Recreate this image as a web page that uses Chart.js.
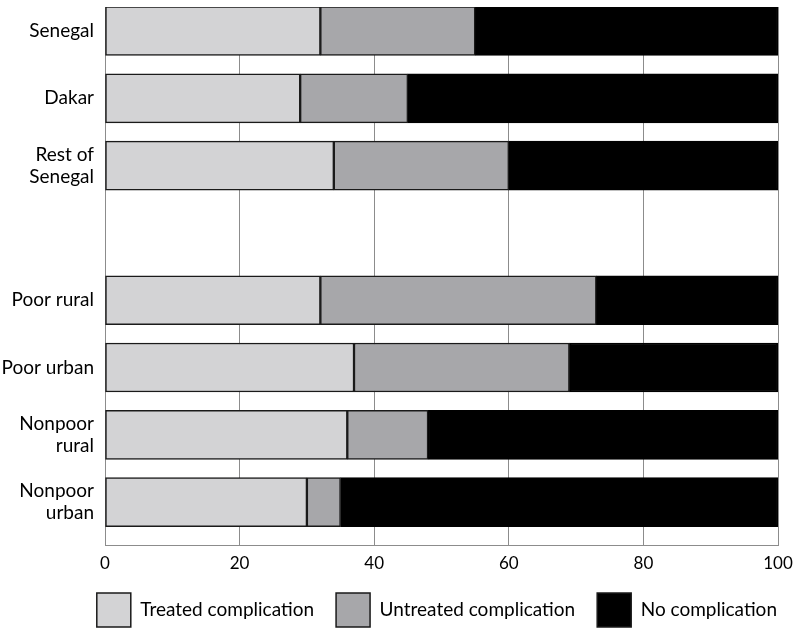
<!DOCTYPE html>
<html>
<head>
<meta charset="utf-8">
<script src="https://cdn.jsdelivr.net/npm/chart.js@4.4.1/dist/chart.umd.min.js"></script>
<style>
html,body{margin:0;padding:0;background:#fff;}
#wrap{width:800px;height:633px;position:relative;}
</style>
</head>
<body>
<div id="wrap"><canvas id="c" width="800" height="633"></canvas></div>
<script>
const categories = ['Senegal', 'Dakar', ['Rest of', 'Senegal'], '', 'Poor rural', 'Poor urban', ['Nonpoor', 'rural'], ['Nonpoor', 'urban']];
const treated   = [32, 29, 34, null, 32, 37, 36, 30];
const untreated = [23, 16, 26, null, 41, 32, 12, 5];
const noComp    = [45, 55, 40, null, 27, 31, 52, 65];
const xTicks = [0, 20, 40, 60, 80, 100];
const seriesNames = ['Treated complication', 'Untreated complication', 'No complication'];

function pts(arr) {
  return arr.map((v, i) => (v === null ? null : { x: v, y: i })).filter(p => p !== null);
}

const FONT = 'Lato, "Open Sans", sans-serif';

const legendShift = {
  id: 'legendShift',
  afterLayout(chart) {
    const lg = chart.legend;
    if (lg) { lg.top -= 3; lg.bottom -= 3; }
  }
};

new Chart(document.getElementById('c'), {
  type: 'bar',
  data: {
    datasets: [
      { label: seriesNames[0], data: pts(treated), backgroundColor: '#d3d3d5', borderColor: '#1a1a1a', borderWidth: 1.5, borderSkipped: false },
      { label: seriesNames[1], data: pts(untreated), backgroundColor: '#a7a7aa', borderColor: '#1a1a1a', borderWidth: 1.5, borderSkipped: false },
      { label: seriesNames[2], data: pts(noComp), backgroundColor: '#000000', borderColor: '#000000', borderWidth: 1.5, borderSkipped: false }
    ]
  },
  plugins: [legendShift],
  options: {
    indexAxis: 'y',
    responsive: false,
    animation: false,
    barThickness: 49,
    layout: { padding: { top: 7, right: 1, left: 0, bottom: -7 } },
    scales: {
      x: {
        type: 'linear',
        stacked: true,
        min: 0,
        max: 100,
        afterBuildTicks: s => { s.ticks = xTicks.map(v => ({ value: v })); },
        afterFit: s => { s.height = 29; s.paddingRight = 22; s.paddingLeft = 0; },
        grid: { display: true, color: '#8c8c8c', lineWidth: 1, drawTicks: false },
        border: { display: true, color: '#8c8c8c', width: 1 },
        ticks: { color: '#000', font: { family: FONT, size: 17 }, padding: 8 }
      },
      y: {
        type: 'linear',
        stacked: true,
        reverse: true,
        offset: false,
        min: -0.357,
        max: 7.637,
        afterBuildTicks: s => { s.ticks = categories.map((c, i) => ({ value: i })).filter(t => categories[t.value] !== ''); },
        afterFit: s => { s.width = 105; s.paddingTop = 0; s.paddingBottom = 0; },
        grid: { display: false, drawTicks: false },
        border: { display: true, color: '#8c8c8c', width: 1 },
        ticks: {
          color: '#000',
          font: { family: FONT, size: 19, lineHeight: 1.18 },
          padding: 11,
          autoSkip: false,
          callback: v => categories[v]
        }
      }
    },
    plugins: {
      legend: {
        position: 'bottom',
        align: 'end',
        labels: {
          boxWidth: 34,
          boxHeight: 34,
          padding: 22,
          color: '#000',
          font: { family: FONT, size: 19 },
          generateLabels: chart => chart.data.datasets.map((d, i) => ({
            text: d.label,
            fillStyle: d.backgroundColor,
            strokeStyle: '#1a1a1a',
            lineWidth: 1.5,
            datasetIndex: i,
            hidden: false
          }))
        }
      },
      tooltip: { enabled: false }
    }
  }
});
</script>
</body>
</html>
